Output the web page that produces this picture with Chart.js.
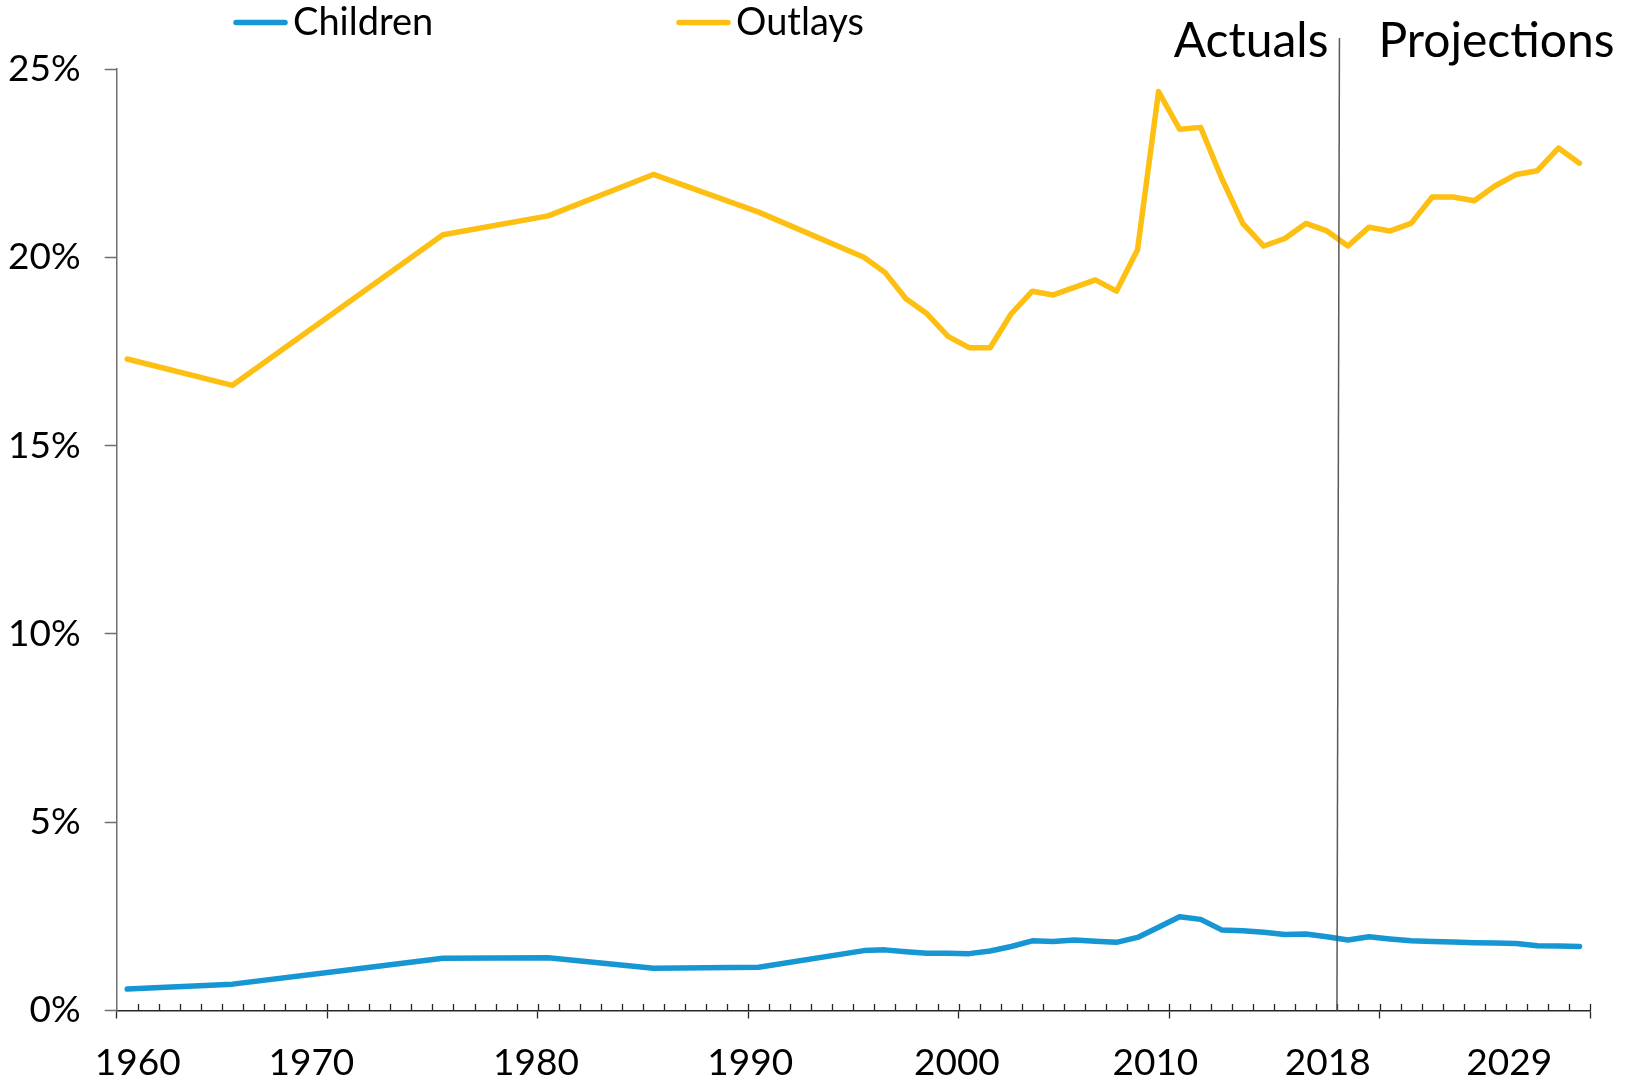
<!DOCTYPE html>
<html>
<head>
<meta charset="utf-8">
<script src="https://cdn.jsdelivr.net/npm/chart.js@4.4.0/dist/chart.umd.min.js"></script>
<style>
  html, body { margin: 0; padding: 0; background: #fff; }
</style>
</head>
<body>
<canvas id="chart" width="1626" height="1088"></canvas>
<script>
'use strict'
// years with data: 5-year steps up to 1995, then every year
const years = [1960, 1965, 1970, 1975, 1980, 1985, 1990, 1995,
  1996, 1997, 1998, 1999, 2000, 2001, 2002, 2003, 2004, 2005, 2006, 2007, 2008, 2009,
  2010, 2011, 2012, 2013, 2014, 2015, 2016, 2017, 2018, 2019,
  2020, 2021, 2022, 2023, 2024, 2025, 2026, 2027, 2028, 2029];
const children = [0.57, 0.70, 1.04, 1.39, 1.40, 1.12, 1.15, 1.59,
  1.61, 1.56, 1.52, 1.52, 1.51, 1.58, 1.70, 1.85, 1.83, 1.87, 1.84, 1.81, 1.94, 2.21,
  2.49, 2.42, 2.14, 2.12, 2.08, 2.02, 2.03, 1.96, 1.87, 1.96,
  1.90, 1.85, 1.83, 1.82, 1.80, 1.79, 1.78, 1.72, 1.71, 1.70];
const outlays = [17.3, 16.6, 18.6, 20.6, 21.1, 22.2, 21.2, 20.0,
  19.6, 18.9, 18.5, 17.9, 17.6, 17.6, 18.5, 19.1, 19.0, 19.2, 19.4, 19.1, 20.2, 24.4,
  23.4, 23.45, 22.1, 20.9, 20.3, 20.5, 20.9, 20.7, 20.3, 20.8,
  20.7, 20.9, 21.6, 21.6, 21.5, 21.9, 22.2, 22.3, 22.9, 22.5];

const yTicks = [0, 5, 10, 15, 20, 25];
const xLabels = ['1960', '1970', '1980', '1990', '2000', '2010', '2018', '2029'];
const xLabelAt = [1960.5, 1968.75, 1979.42, 1989.6, 1999.42, 2008.85, 2017.04, 2025.66];
const splitYear = 2017.5;
const sections = ['Actuals', 'Projections'];

const BLUE = '#1696d2';
const YELLOW = '#fdbf11';

Chart.defaults.font.family = 'Lato';
Chart.defaults.font.size = 37;
Chart.defaults.color = '#000';

// inside tick marks, actual/projection divider, legend
const overlay = {
  id: 'overlay',
  afterDraw(chart) {
    const {ctx, chartArea} = chart;
    const x = chart.scales.x;
    ctx.save();

    ctx.strokeStyle = '#262626';
    ctx.lineWidth = 1.3;
    ctx.beginPath();
    for (let v = 1960.5; v <= 2029.5; v += 1) {
      const px = Math.round(x.getPixelForValue(v)) + 0.5;
      ctx.moveTo(px, chartArea.bottom);
      ctx.lineTo(px, chartArea.bottom - 6.5);
    }
    ctx.stroke();

    const sx = x.getPixelForValue(splitYear);
    ctx.strokeStyle = '#595959';
    ctx.lineWidth = 1.5;
    ctx.beginPath();
    ctx.moveTo(sx + 2, 38);
    ctx.lineTo(sx - 0.5, chartArea.bottom);
    ctx.stroke();

    ctx.font = '48px Lato';
    ctx.fillStyle = '#000';
    ctx.textBaseline = 'alphabetic';
    ctx.textAlign = 'right';
    ctx.fillText(sections[0], sx - 9, 57);
    ctx.textAlign = 'left';
    ctx.fillText(sections[1], sx + 41, 57);

    // legend
    const legendX = [236, 679];
    ctx.font = '38px Lato';
    ctx.textBaseline = 'middle';
    chart.data.datasets.forEach((ds, i) => {
      const lx = legendX[i];
      ctx.strokeStyle = ds.borderColor;
      ctx.lineWidth = 5.5;
      ctx.lineCap = 'round';
      ctx.beginPath();
      ctx.moveTo(lx, 22.5);
      ctx.lineTo(lx + 49, 22.5);
      ctx.stroke();
      ctx.fillText(ds.label, lx + 57, 23);
    });
    ctx.restore();
  }
};

new Chart(document.getElementById('chart'), {
  type: 'line',
  data: {
    labels: years,
    datasets: [
      {label: 'Children', data: children, borderColor: BLUE, backgroundColor: BLUE},
      {label: 'Outlays', data: outlays, borderColor: YELLOW, backgroundColor: YELLOW}
    ]
  },
  options: {
    responsive: false,
    animation: false,
    devicePixelRatio: 1,
    layout: {padding: {top: 69, right: 36, left: 0, bottom: 0}},
    elements: {
      point: {radius: 0},
      line: {borderWidth: 5.5, tension: 0, borderCapStyle: 'round', borderJoinStyle: 'round'}
    },
    plugins: {legend: {display: false}, tooltip: {enabled: false}},
    scales: {
      x: {
        type: 'linear', min: 1959.5, max: 2029.5,
        afterBuildTicks: s => {
          s.ticks = [];
          for (let v = 1959.5; v <= 2029.5; v += 10) s.ticks.push({value: v});
        },
        ticks: {display: false},
        grid: {drawOnChartArea: false, tickLength: 8, tickColor: '#262626', tickWidth: 1.3},
        border: {color: '#262626', width: 1.5},
        afterFit: s => { s.height = 8; }
      },
      xl: {
        type: 'linear', position: 'bottom', min: 1959.5, max: 2029.5,
        afterBuildTicks: s => { s.ticks = xLabelAt.map(v => ({value: v})); },
        ticks: {callback: (v, i) => xLabels[i], padding: 22, maxRotation: 0, autoSkip: false},
        grid: {display: false, drawTicks: false},
        border: {display: false},
        afterFit: s => { s.height = 69.5; }
      },
      y: {
        min: 0, max: 25,
        afterBuildTicks: s => { s.ticks = yTicks.map(v => ({value: v})); },
        ticks: {callback: v => v + '%', padding: 24},
        grid: {drawOnChartArea: false, tickLength: 12, tickColor: '#6f6f6f', tickWidth: 1.5},
        border: {color: '#6f6f6f', width: 1.5},
        afterFit: s => { s.width = 116.7; }
      }
    }
  },
  plugins: [overlay]
});
</script>
</body>
</html>
